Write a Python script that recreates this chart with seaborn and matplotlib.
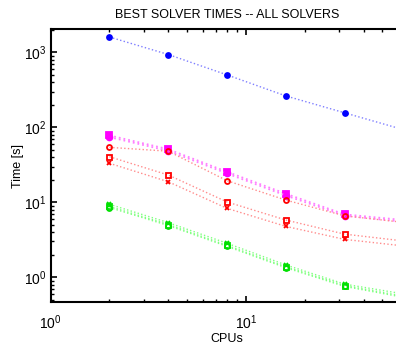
import numpy as np
import pandas as pd
import matplotlib
matplotlib.use("Agg")
import matplotlib.pyplot as plt
import seaborn as sns

cpus = [2, 4, 8, 16, 32, 64]
blue_circle = [1600, 935, 500, 262, 156, 93]
magenta_square = [78, 51, 25.5, 13.0, 6.9, 5.8]
magenta_circle = [74, 48.5, 24.2, 12.3, 6.6, 5.5]
red_circle = [54, 48, 19.4, 10.7, 6.6, 5.4]
red_square = [40.5, 23.1, 10.1, 5.8, 3.76, 3.05]
red_cross = [33.1, 18.8, 8.3, 4.77, 3.2, 2.62]
green_cross = [9.4, 5.35, 2.84, 1.46, 0.81, 0.6]
green_square = [8.8, 5.05, 2.66, 1.38, 0.775, 0.56]
green_circle = [8.5, 4.9, 2.58, 1.34, 0.755, 0.54]

series = [
    # name, values, line colour, marker colour, marker, filled, lw, ms
    ("blue_circle", blue_circle, "#7f7fff", "#0000ff", "o", True, 1.0, 3.6),
    ("magenta_square", magenta_square, "#ff80ff", "#ff00ff", "s", True, 1.3, 4.2),
    ("magenta_circle", magenta_circle, "#ff80ff", "#ff00ff", "o", True, 1.3, 4.2),
    ("red_circle", red_circle, "#ff8c8c", "#ff0000", "o", False, 1.0, 3.6),
    ("red_square", red_square, "#ff8c8c", "#ff0000", "s", False, 1.0, 3.6),
    ("red_cross", red_cross, "#ff8c8c", "#ff0000", "x", False, 1.0, 3.2),
    ("green_cross", green_cross, "#80ff80", "#00e000", "x", False, 1.0, 3.4),
    ("green_square", green_square, "#80ff80", "#00e000", "s", False, 1.0, 3.6),
    ("green_circle", green_circle, "#80ff80", "#00e000", "o", False, 1.0, 3.6),
]

sns.set_theme(style="ticks")
plt.rcParams["font.family"] = ["Liberation Sans", "DejaVu Sans"]
plt.rcParams["mathtext.fontset"] = "custom"
plt.rcParams["mathtext.rm"] = "Liberation Sans"
plt.rcParams["mathtext.it"] = "Liberation Sans"

fig = plt.figure(figsize=(3.96, 3.48), dpi=100)
ax = fig.add_axes([50.7 / 396, 1 - 302.3 / 348, 352.7 / 396, (302.3 - 29.3) / 348])

for name, vals, lc, mc, mk, filled, lw, ms in series:
    df = pd.DataFrame({"CPUs": cpus, "Time": vals})
    sns.lineplot(data=df, x="CPUs", y="Time", ax=ax, color=lc, linestyle=":",
                 linewidth=lw, marker=mk, markersize=ms,
                 markerfacecolor=(mc if filled else "none"),
                 markeredgecolor=mc, markeredgewidth=1.3, clip_on=True)

ax.set_xscale("log")
ax.set_yscale("log")
ax.set_xlim(1, 64)
ax.set_ylim(10 ** -0.334, 10 ** 3.307)

for s in ax.spines.values():
    s.set_visible(True)
    s.set_color("black")
    s.set_linewidth(1.5)
ax.xaxis.set_minor_locator(matplotlib.ticker.LogLocator(base=10, subs=np.arange(2, 10), numticks=20))
ax.yaxis.set_minor_locator(matplotlib.ticker.LogLocator(base=10, subs=np.arange(2, 10), numticks=20))
ax.xaxis.set_minor_formatter(matplotlib.ticker.NullFormatter())
ax.yaxis.set_minor_formatter(matplotlib.ticker.NullFormatter())
ax.tick_params(which="both", direction="in", top=True, right=True, bottom=True, left=True,
               colors="black", labelcolor="black", labelsize=10)
ax.tick_params(which="major", length=4, width=1.2)
ax.tick_params(which="minor", length=2.5, width=1.0)
ax.tick_params(axis="x", pad=8)
ax.tick_params(axis="y", pad=3)

ax.set_xlabel("CPUs", fontsize=9, labelpad=1, color="black")
ax.set_ylabel("Time [s]", fontsize=9, labelpad=0, color="black")
fig.text(227 / 396, 1 - 15 / 348, "BEST SOLVER TIMES -- ALL SOLVERS", ha="center", va="center",
         fontsize=9, color="black")

fig.savefig("out.png", dpi=100)
